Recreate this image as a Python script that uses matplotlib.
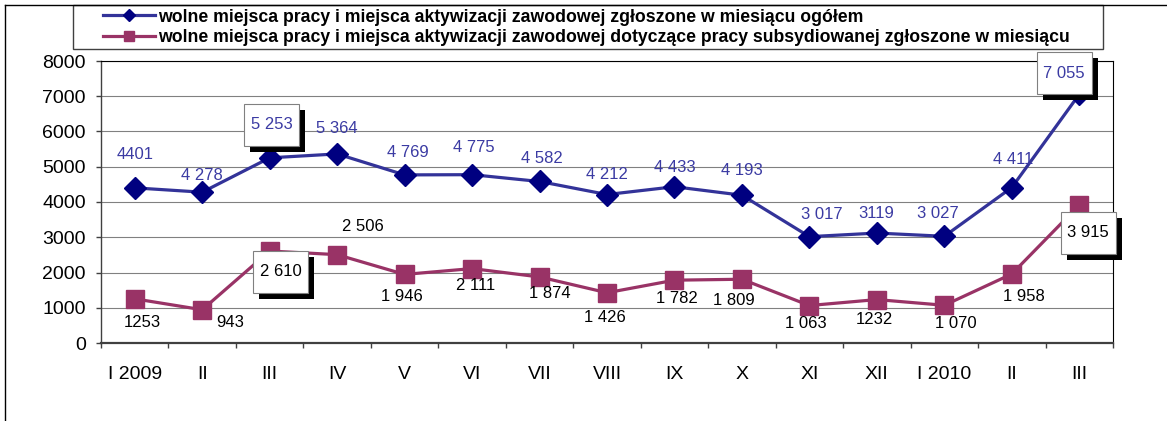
import matplotlib.pyplot as plt
import matplotlib.patheffects as pe
from matplotlib.patches import Rectangle
from matplotlib.lines import Line2D
from matplotlib.path import Path

plt.rcParams['font.family'] = ['Liberation Sans', 'DejaVu Sans']

# dane
miesiace = ["I 2009", "II", "III", "IV", "V", "VI", "VII", "VIII", "IX", "X",
            "XI", "XII", "I 2010", "II", "III"]
ogolem = [4401, 4278, 5253, 5364, 4769, 4775, 4582, 4212, 4433, 4193,
          3017, 3119, 3027, 4411, 7055]
subsyd = [1253, 943, 2610, 2506, 1946, 2111, 1874, 1426, 1782, 1809,
          1063, 1232, 1070, 1958, 3915]
etyk_ogolem = ["4401", "4 278", "5 253", "5 364", "4 769", "4 775", "4 582", "4 212",
               "4 433", "4 193", "3 017", "3119", "3 027", "4 411", "7 055"]
etyk_subsyd = ["1253", "943", "2 610", "2 506", "1 946", "2 111", "1 874", "1 426",
               "1 782", "1 809", "1 063", "1232", "1 070", "1 958", "3 915"]
nazwa_ogolem = "wolne miejsca pracy i miejsca aktywizacji zawodowej zgłoszone w miesiącu ogółem"
nazwa_subsyd = ("wolne miejsca pracy i miejsca aktywizacji zawodowej dotyczące pracy "
                "subsydiowanej zgłoszone w miesiącu")

# przesunięcia etykiet (piksele)
off_ogolem = [(0, 33), (0, 17), (2, 33), (0, 25), (3, 22), (2, 27), (2, 23), (0, 20),
              (0, 19), (0, 25), (12, 22), (-1, 20), (-6, 23), (1, 28), (-15, 21)]
off_subsyd = [(8, -24), (28, -13), (11, -21), (26, 28), (-3, -22), (4, -17), (10, -17),
              (-2, -25), (2, -18), (-8, -21), (-4, -18), (-2, -20), (11, -18), (12, -23),
              (9, -28)]
w_ramce = [2, 14]

W, H = 1167, 421
fig = plt.figure(figsize=(W / 100, H / 100), dpi=100)
ax = fig.add_axes([101 / W, 1 - 343 / H, (1113 - 101) / W, (343 - 61) / H])

x = list(range(len(miesiace)))
l1, = ax.plot(x, ogolem, color='#333399', lw=2.3, marker='D', ms=11.5,
              mfc='#000080', mec='#000080', zorder=3)
l2, = ax.plot(x, subsyd, color='#993366', lw=2.3, marker='s', ms=12.5,
              mfc='#993366', mec='#993366', zorder=3)

ax.set_xlim(-0.5, len(miesiace) - 0.5)
ax.set_ylim(0, 8000)
ax.set_yticks(range(0, 8001, 1000))
ax.yaxis.grid(True, color='#808080', lw=0.8)
ax.set_axisbelow(True)
ax.set_xticks(x)
ax.set_xticklabels(miesiace)
ax.set_xticks([i - 0.5 for i in range(len(miesiace) + 1)], minor=True)
ax.tick_params(axis='x', which='major', length=0, pad=16.8, labelsize=14)
ax.tick_params(axis='x', which='minor', length=3.6, width=1, color='#404040', direction='out')
ax.tick_params(axis='y', length=3.6, width=1, color='#404040', pad=7.3, labelsize=14)
for s in ['top', 'right']:
    ax.spines[s].set_color('black')
    ax.spines[s].set_linewidth(0.8)
ax.spines['left'].set_color('#404040')
ax.spines['left'].set_linewidth(1)
ax.spines['bottom'].set_color('#404040')
ax.spines['bottom'].set_linewidth(1.6)


def ramka(x0, y0, width, height, mutation_size):
    # prostokąt z większym marginesem w pionie
    px, py = 0.4 * mutation_size, 0.8 * mutation_size
    x0, y0 = x0 - px, y0 - py
    x1, y1 = x0 + width + 2 * px, y0 + height + 2 * py
    return Path([(x0, y0), (x1, y0), (x1, y1), (x0, y1), (x0, y0)], closed=True)


def etykiety(wartosci, teksty, offsety, kolor):
    for i, (v, t, o) in enumerate(zip(wartosci, teksty, offsety)):
        kw = {}
        if i in w_ramce:
            kw['bbox'] = dict(boxstyle=ramka, fc='white', ec='#808080', lw=0.8)
        a = ax.annotate(t, (i, v), xytext=o, textcoords='offset pixels',
                        ha='center', va='center', fontsize=12, color=kolor, zorder=5, **kw)
        if i in w_ramce:
            a.get_bbox_patch().set_path_effects([
                pe.SimplePatchShadow(offset=(4.3, -4.3), shadow_rgbFace='black', alpha=1),
                pe.Normal()])


etykiety(ogolem, etyk_ogolem, off_ogolem, '#3b3ba3')
etykiety(subsyd, etyk_subsyd, off_subsyd, 'black')

# ramka całego wykresu
fig.add_artist(Line2D([5 / W, 5 / W], [0, 1 - 5 / H], transform=fig.transFigure,
                      color='black', lw=1))
fig.add_artist(Line2D([5 / W, 1], [1 - 5 / H, 1 - 5 / H], transform=fig.transFigure,
                      color='black', lw=1))

# legenda
fig.add_artist(Rectangle((73 / W, 1 - 49 / H), (1103 - 73) / W, 44 / H,
                         transform=fig.transFigure, fill=False, ec='#404040', lw=1))
fig.legend([l1, l2], [nazwa_ogolem, nazwa_subsyd], loc='upper left',
           bbox_to_anchor=(103 / W, 1 - 8.5 / H), frameon=False,
           prop={'weight': 'bold', 'size': 12.7}, handlelength=2.95, handletextpad=0.17,
           labelspacing=0.22, borderpad=0, borderaxespad=0, markerscale=0.55)

fig.savefig('out.png', dpi=100)
